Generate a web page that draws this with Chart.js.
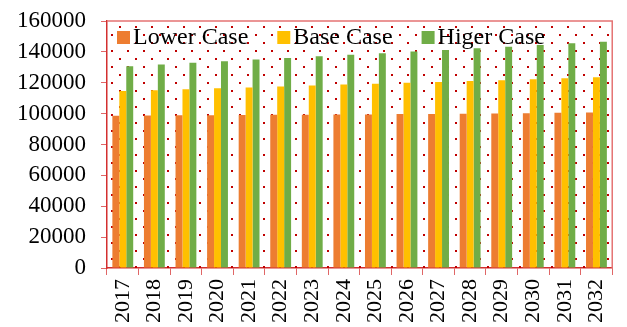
<!DOCTYPE html>
<html>
<head>
<meta charset="utf-8">
<script src="https://cdn.jsdelivr.net/npm/chart.js@4"></script>
<style>
  body { margin: 0; background: #fff; }
</style>
</head>
<body>
<canvas id="chart" width="627" height="327"></canvas>
<script>
const years = ['2017', '2018', '2019', '2020', '2021', '2022', '2023', '2024',
               '2025', '2026', '2027', '2028', '2029', '2030', '2031', '2032'];
const lowerCase = [98700, 98800, 98900, 99000, 99100, 99200, 99300, 99400,
                   99500, 99700, 99800, 100000, 100100, 100300, 100500, 100800];
const baseCase = [114700, 115200, 115800, 116400, 117000, 117600, 118200, 118800,
                  119400, 120000, 120500, 121100, 121700, 122300, 122900, 123600];
const higerCase = [130700, 131800, 132900, 134000, 135100, 136000, 137100, 138100,
                   139100, 140200, 141200, 142300, 143400, 144500, 145600, 146500];
const yMin = 0, yMax = 160000, yStep = 20000;

const serif = 'Liberation Serif';

// fondo de puntos rojos dentro del area del grafico
const dotsPlugin = {
    id: 'dots',
    beforeDatasetsDraw(chart) {
        const { ctx, chartArea: a } = chart;
        const p = document.createElement('canvas');
        p.width = 16; p.height = 16;
        const pc = p.getContext('2d');
        pc.fillStyle = '#c00000';
        pc.fillRect(7, 10, 2, 2);
        pc.fillRect(15, 2, 1, 2);
        pc.fillRect(0, 2, 1, 2);
        ctx.save();
        ctx.fillStyle = ctx.createPattern(p, 'repeat');
        ctx.fillRect(a.left, a.top, a.right - a.left, a.bottom - a.top);
        ctx.restore();
    },
    afterDraw(chart) {
        const { ctx, chartArea: a } = chart;
        ctx.save();
        // borde superior y derecho
        ctx.strokeStyle = '#e57373';
        ctx.lineWidth = 1.5;
        ctx.beginPath();
        ctx.moveTo(a.left, a.top);
        ctx.lineTo(a.right, a.top);
        ctx.lineTo(a.right, a.bottom);
        ctx.stroke();

        // leyenda dentro del grafico, arriba
        ctx.font = '24px "' + serif + '"';
        ctx.textBaseline = 'middle';
        let x = a.left + 10;
        const y = a.top + 16;
        chart.data.datasets.forEach(ds => {
            ctx.fillStyle = ds.backgroundColor;
            ctx.fillRect(x, y - 6, 13, 13);
            ctx.fillStyle = '#000';
            ctx.fillText(ds.label, x + 16, y + 1);
            x += 16 + ctx.measureText(ds.label).width + 29;
        });
        ctx.restore();
    }
};

new Chart(document.getElementById('chart').getContext('2d'), {
    type: 'bar',
    data: {
        labels: years,
        datasets: [
            { label: 'Lower Case', data: lowerCase, backgroundColor: '#ED7D31' },
            { label: 'Base Case', data: baseCase, backgroundColor: '#FFC000' },
            { label: 'Higer Case', data: higerCase, backgroundColor: '#70AD47' }
        ]
    },
    options: {
        responsive: false,
        animation: false,
        layout: { padding: { left: 2, right: 5, top: 0, bottom: 0 } },
        datasets: {
            bar: { categoryPercentage: 0.66, barPercentage: 1.0 }
        },
        scales: {
            x: {
                grid: { drawOnChartArea: false, drawTicks: true, tickLength: 7, color: '#e06666' },
                border: { color: '#d32f2f', width: 1.5 },
                ticks: {
                    color: '#000', minRotation: 90, maxRotation: 90, padding: 4,
                    font: { family: serif, size: 22 }
                }
            },
            y: {
                min: yMin, max: yMax,
                afterFit: scale => { scale.paddingTop = 21; },
                grid: { drawOnChartArea: false, drawTicks: true, tickLength: 6, color: '#e06666' },
                border: { color: '#d32f2f', width: 1.5 },
                ticks: {
                    stepSize: yStep, autoSkip: false, color: '#000', padding: 15,
                    font: { family: serif, size: 23 },
                    callback: v => String(v)
                }
            }
        },
        plugins: {
            tooltip: { enabled: false },
            legend: { display: false }
        }
    },
    plugins: [dotsPlugin]
});
</script>
</body>
</html>
